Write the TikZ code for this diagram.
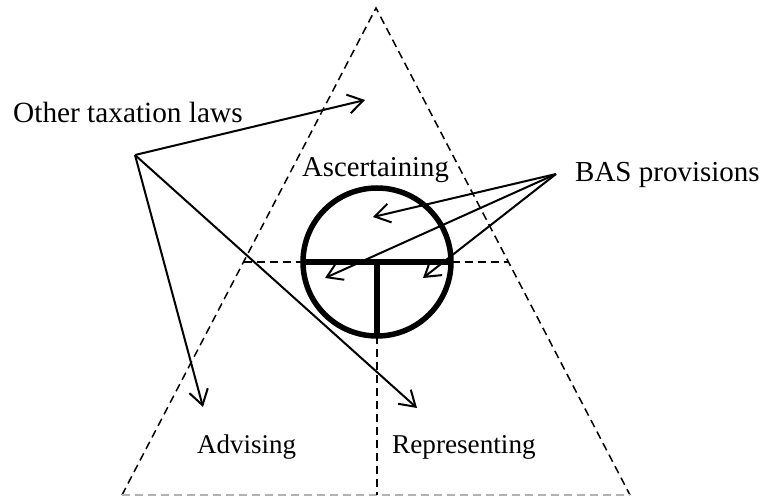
\documentclass[tikz,border=0pt]{standalone}
\usepackage{fontspec}
\setmainfont{Liberation Serif}
\usetikzlibrary{arrows.meta,calc}
\begin{document}
\begin{tikzpicture}[x=1pt,y=-1pt,
  lbl/.style={inner sep=0pt, anchor=base west},
  tri/.style={dash pattern=on 8pt off 5pt, line width=1.5pt},
  ptr/.style={line width=2pt, -{Straight Barb[length=15pt,width=19pt,line width=2pt]}},
  heavy/.style={line width=5.5pt}]
\useasboundingbox (0,0) rectangle (765,497);
% triangle
\coordinate (apex) at (376,8);
\coordinate (bl) at (122,495);
\coordinate (br) at (630,495);
\coordinate (c) at (377,262);
\coordinate (ml) at ($(apex)!{254/487}!(bl)$);
\coordinate (mr) at ($(apex)!{254/487}!(br)$);
\coordinate (cb) at (377,336);
\coordinate (vb) at (377,495);
\draw[tri] (bl) -- (apex) -- (br);
\draw[tri, gray!60] (bl) -- (br);
\draw[tri] (ml) -- (mr);
\draw[tri] (cb) -- (vb);
% circle
\draw[heavy] (c) circle[radius=74];
\draw[heavy] ($(c)+(-74,0)$) -- ($(c)+(74,0)$);
\draw[heavy] (c) -- (cb);
% labels
\node[lbl, font=\fontsize{29.3}{33}\selectfont] (otl) at (13,123) {Other taxation laws};
\node[lbl, font=\fontsize{29}{33}\selectfont] (bas) at (575,182) {BAS provisions};
\node[lbl, font=\fontsize{28.7}{33}\selectfont] (asc) at (302,177) {Ascertaining};
\node[lbl, font=\fontsize{27}{31}\selectfont] (adv) at (197,453) {Advising};
\node[lbl, font=\fontsize{27.2}{31}\selectfont] (rep) at (392,453) {Representing};
% arrow sources and tips
\coordinate (os) at (135,155);
\coordinate (bs) at (556,174);
\coordinate (t1) at (365,100);
\coordinate (t2) at (203,407);
\coordinate (t3) at (417,408);
\coordinate (b1) at (373,217);
\coordinate (b2) at (325,278);
\coordinate (b3) at (423,278);
\draw[ptr] (os) -- (t1);
\draw[ptr] (os) -- (t2);
\draw[ptr] (os) -- (t3);
\draw[ptr] (bs) -- (b1);
\draw[ptr] (bs) -- (b2);
\draw[ptr] (bs) -- (b3);
\end{tikzpicture}
\end{document}
